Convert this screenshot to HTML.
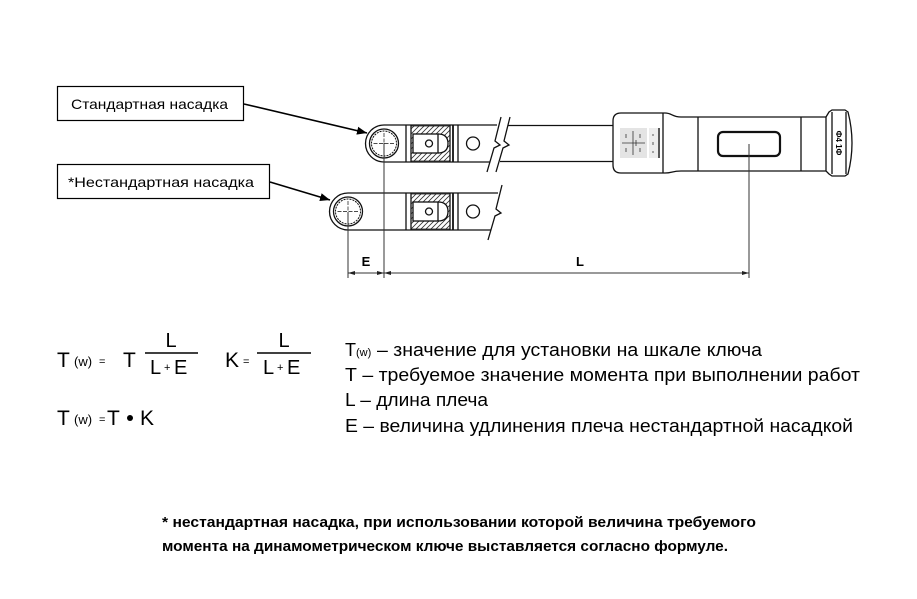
<!DOCTYPE html>
<html><head><meta charset="utf-8"><style>
html,body{margin:0;padding:0;background:#fff;}
svg{display:block;}
text{font-family:"Liberation Sans",sans-serif;fill:#000;}
</style></head><body>
<svg width="917" height="599" viewBox="0 0 917 599" xmlns="http://www.w3.org/2000/svg">
<defs>
<pattern id="h" patternUnits="userSpaceOnUse" width="5" height="5">
<path d="M-1,6 L6,-1 M-1,1 L1,-1 M4,6 L6,4" stroke="#333" stroke-width="0.8"/>
</pattern>
<marker id="ar" viewBox="0 0 10 10" refX="10" refY="5" markerWidth="10" markerHeight="10" markerUnits="userSpaceOnUse" orient="auto">
<path d="M0,1 L10,5 L0,9 Z" fill="#000"/>
</marker>
</defs>

<!-- label boxes -->
<rect x="57.5" y="86.5" width="186" height="34" fill="#fff" stroke="#000" stroke-width="1.2"/>
<text x="71" y="109" font-size="14" textLength="157" lengthAdjust="spacingAndGlyphs">Стандартная насадка</text>
<rect x="57.5" y="164.5" width="212" height="34" fill="#fff" stroke="#000" stroke-width="1.2"/>
<text x="68" y="187" font-size="14" textLength="186" lengthAdjust="spacingAndGlyphs">*Нестандартная насадка</text>

<!-- leaders -->
<line x1="244" y1="104" x2="367" y2="133" stroke="#000" stroke-width="1.6" marker-end="url(#ar)"/>
<line x1="270" y1="182" x2="330" y2="200" stroke="#000" stroke-width="1.6" marker-end="url(#ar)"/>

<g fill="none" stroke="#111" stroke-width="1.3">
<!-- TOP WRENCH -->
<path d="M406,125 H384 A18.5,18.5 0 0 0 384,162 H406"/>
<circle cx="384" cy="143.5" r="14.5"/>
<circle cx="384" cy="143.5" r="12.5" stroke-dasharray="2 1" stroke-width="1"/>
<path d="M384,133 V154 M373.5,143.5 H394.5" stroke-width="0.7" stroke-dasharray="4 1.5"/>
<line x1="406" y1="125" x2="406" y2="162"/>
<line x1="411" y1="125" x2="411" y2="162"/>
<path d="M411,126 H450 V161 H411 Z M413,134 H438 Q448,134 448,143.5 Q448,153 438,153 H413 Z" fill="url(#h)" fill-rule="evenodd" stroke-width="0.8"/>
<rect x="413" y="134" width="25" height="19"/>
<path d="M438,134 Q448,134 448,143.5 Q448,153 438,153"/>
<circle cx="429" cy="143.5" r="3.5"/>
<line x1="450" y1="125" x2="450" y2="162"/>
<line x1="453" y1="125" x2="453" y2="162" stroke-width="1.8"/>
<line x1="458" y1="125" x2="458" y2="162"/>
<path d="M406,125 H497 M406,162 H490"/>
<circle cx="473" cy="143.5" r="6.5"/>
<path d="M487,172 L494,148 L500,145 L495,141 L501,117"/>
<path d="M496,172 L503,148 L509,145 L504,141 L510,117"/>
<path d="M508,125.5 H613 M500,161.5 H613"/>

<!-- BOTTOM WRENCH -->
<path d="M406,193 H348 A18.5,18.5 0 0 0 348,230 H406"/>
<circle cx="348" cy="211.5" r="14.5"/>
<circle cx="348" cy="211.5" r="12.5" stroke-dasharray="2 1" stroke-width="1"/>
<path d="M348,201 V222 M337.5,211.5 H358.5" stroke-width="0.7" stroke-dasharray="4 1.5"/>
<line x1="406" y1="193" x2="406" y2="230"/>
<line x1="411" y1="193" x2="411" y2="230"/>
<path d="M411,194 H450 V229 H411 Z M413,202 H438 Q448,202 448,211.5 Q448,221 438,221 H413 Z" fill="url(#h)" fill-rule="evenodd" stroke-width="0.8"/>
<rect x="413" y="202" width="25" height="19"/>
<path d="M438,202 Q448,202 448,211.5 Q448,221 438,221"/>
<circle cx="429" cy="211.5" r="3.5"/>
<line x1="450" y1="193" x2="450" y2="230"/>
<line x1="453" y1="193" x2="453" y2="230" stroke-width="1.8"/>
<line x1="458" y1="193" x2="458" y2="230"/>
<path d="M406,193 H498 M406,230 H491"/>
<circle cx="473" cy="211.5" r="6.5"/>
<path d="M488,240 L495,216 L501,213 L496,209 L502,185"/>

<!-- HANDLE -->
<path d="M665,113 H621 Q613,113 613,121 V165 Q613,173 621,173 H665"/>
<line x1="663" y1="113" x2="663" y2="173"/>
<path d="M665,113 C672,113 672,117 681,117 H826"/>
<path d="M665,173 C672,173 672,171 681,171 H826"/>
<line x1="698" y1="117" x2="698" y2="171"/>
<line x1="801" y1="117" x2="801" y2="171"/>
<path d="M826,117 L829,112 L832,110 H845 L848,112 Q856,143 848,174 L845,176 H832 L829,174 L826,171 Z"/>
<line x1="832" y1="112" x2="832" y2="174"/>
<line x1="846" y1="112" x2="846" y2="174"/>
<rect x="718" y="132" width="62" height="24" rx="5" stroke="#111" stroke-width="2.2"/>
</g>
<!-- sticker -->
<rect x="620" y="128" width="27" height="30" fill="#e4e4e4"/>
<rect x="649" y="128" width="11" height="30" fill="#ececec"/>
<g stroke="#333" stroke-width="0.8" fill="none">
<line x1="633" y1="131" x2="633" y2="155"/>
<line x1="622" y1="143" x2="645" y2="143"/>
<path d="M626,134 v4 M626,148 v4 M640,134 v4 M640,148 v4 M636,140 v6"/>
<line x1="659" y1="128" x2="659" y2="158" stroke-width="1.6"/>
<path d="M653,134 v2 M653,142 v3 M653,151 v2"/>
</g>
<text transform="translate(836,143) rotate(90)" font-size="8" font-weight="bold" text-anchor="middle">Ф4 1Ф</text>

<!-- extension & dimension lines -->
<g stroke="#333" stroke-width="1">
<line x1="384" y1="143" x2="384" y2="278"/>
<line x1="348" y1="212" x2="348" y2="278"/>
<line x1="749" y1="144" x2="749" y2="278"/>
<line x1="348" y1="273" x2="749" y2="273"/>
</g>
<g fill="#222">
<path d="M348,273 l7,-2 v4 Z"/>
<path d="M384,273 l-7,-2 v4 Z"/>
<path d="M384,273 l7,-2 v4 Z"/>
<path d="M749,273 l-7,-2 v4 Z"/>
</g>
<text x="366" y="266" font-size="13" font-weight="bold" text-anchor="middle">E</text>
<text x="580" y="266" font-size="13" font-weight="bold" text-anchor="middle">L</text>

<!-- formulas -->
<text x="57" y="367" font-size="21">T</text>
<text x="74" y="366" font-size="13">(w)</text>
<text x="99" y="365" font-size="11">=</text>
<text x="123" y="367" font-size="21">T</text>
<text x="171" y="347" font-size="20" text-anchor="middle">L</text>
<line x1="145" y1="353" x2="198" y2="353" stroke="#000" stroke-width="1.5"/>
<text x="150" y="374" font-size="20">L</text>
<text x="164" y="371" font-size="11">+</text>
<text x="174" y="374" font-size="20">E</text>

<text x="225" y="367" font-size="21">K</text>
<text x="243" y="365" font-size="11">=</text>
<line x1="257" y1="353" x2="311" y2="353" stroke="#000" stroke-width="1.5"/>
<text x="284" y="347" font-size="20" text-anchor="middle">L</text>
<text x="263" y="374" font-size="20">L</text>
<text x="277" y="371" font-size="11">+</text>
<text x="287" y="374" font-size="20">E</text>

<text x="57" y="425" font-size="21">T</text>
<text x="74" y="424" font-size="13">(w)</text>
<text x="99" y="423" font-size="11">=</text>
<text x="107" y="425" font-size="21">T</text>
<circle cx="130" cy="418" r="3" fill="#000"/>
<text x="140" y="425" font-size="21">K</text>

<!-- descriptions -->
<text x="345" y="356" font-size="18">T</text>
<text x="356" y="356" font-size="11">(w)</text>
<text x="377" y="356" font-size="18" textLength="385" lengthAdjust="spacingAndGlyphs">– значение для установки на шкале ключа</text>
<text x="345" y="381" font-size="18" textLength="515" lengthAdjust="spacingAndGlyphs">Т – требуемое значение момента при выполнении работ</text>
<text x="345" y="406" font-size="18" textLength="143" lengthAdjust="spacingAndGlyphs">L – длина плеча</text>
<text x="345" y="432" font-size="18" textLength="508" lengthAdjust="spacingAndGlyphs">E – величина удлинения плеча нестандартной насадкой</text>

<!-- footnote -->
<text x="162" y="527" font-size="14.5" font-weight="bold" textLength="594" lengthAdjust="spacingAndGlyphs">* нестандартная насадка, при использовании которой величина требуемого</text>
<text x="162" y="551" font-size="14.5" font-weight="bold" textLength="566" lengthAdjust="spacingAndGlyphs">момента на динамометрическом ключе выставляется согласно формуле.</text>
</svg>
</body></html>
